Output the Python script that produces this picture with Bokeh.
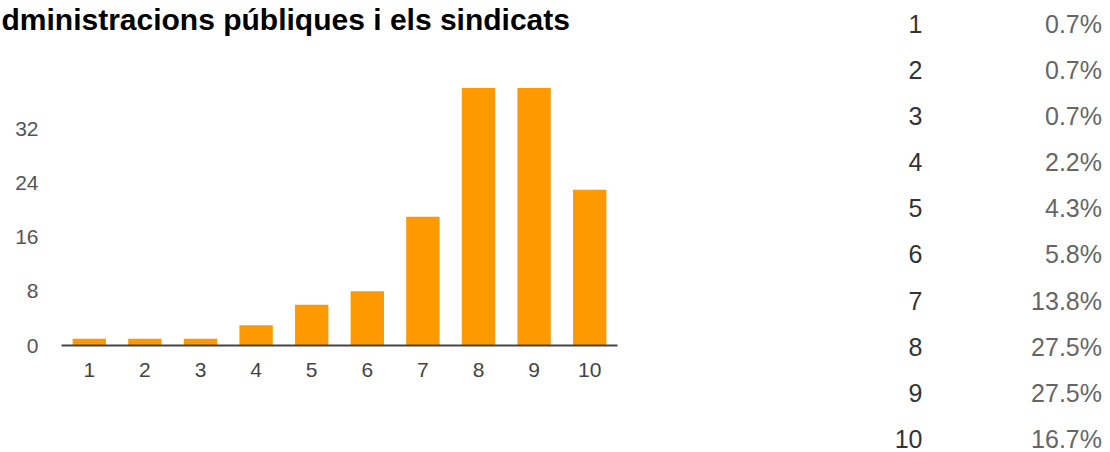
from bokeh.plotting import figure
from bokeh.models import Range1d, FixedTicker
from bokeh.layouts import row, column
from bokeh.core.properties import value
from bokeh.embed import file_html
from bokeh.resources import INLINE

# ---- data ----
title_text = "dministracions públiques i els sindicats"
scores = [1, 2, 3, 4, 5, 6, 7, 8, 9, 10]
score_labels = ["1", "2", "3", "4", "5", "6", "7", "8", "9", "10"]
counts = [1, 1, 1, 3, 6, 8, 19, 38, 38, 23]
percents = ["0.7%", "0.7%", "0.7%", "2.2%", "4.3%", "5.8%", "13.8%", "27.5%", "27.5%", "16.7%"]
y_ticks = [0, 8, 16, 24, 32]

FONT = "Liberation Sans"

# ---- title strip ----
tfig = figure(width=888, height=48, x_range=Range1d(0, 888), y_range=Range1d(48, 0),
              x_axis_location=None, y_axis_location=None, min_border=0,
              output_backend="svg", toolbar_location=None)
tfig.outline_line_color = None
tfig.grid.visible = False
tfig.frame_align = False
tfig.text(x=[1], y=[19], text=[title_text], text_align="left", text_baseline="middle",
          text_font=value(FONT), text_font_size="30px", text_font_style="bold",
          text_color="#000000")

# ---- bar chart ----
p1 = figure(width=888, height=404, x_range=Range1d(0.5, 10.5), y_range=Range1d(0, 40),
            output_backend="svg", toolbar_location=None,
            min_border_left=61, min_border_right=271, min_border_top=26, min_border_bottom=107)
p1.outline_line_color = None
p1.grid.visible = False
p1.frame_align = False
p1.vbar(x=scores, top=counts, width=0.6, fill_color="#ff9900", line_color=None)

xa = p1.xaxis[0]
xa.ticker = FixedTicker(ticks=scores)
xa.major_label_overrides = {s: l for s, l in zip(scores, score_labels)}
xa.axis_line_color = "#444444"
xa.axis_line_width = 2
xa.major_tick_line_color = None
xa.minor_tick_line_color = None
xa.major_tick_in = 0
xa.major_tick_out = 0
xa.major_label_standoff = 17
xa.major_label_text_font = FONT
xa.major_label_text_font_size = "21px"
xa.major_label_text_color = "#444444"

ya = p1.yaxis[0]
ya.ticker = FixedTicker(ticks=y_ticks)
ya.axis_line_color = None
ya.major_tick_line_color = None
ya.minor_tick_line_color = None
ya.major_tick_in = 0
ya.major_tick_out = 0
ya.major_label_standoff = 23
ya.major_label_text_font = FONT
ya.major_label_text_font_size = "21px"
ya.major_label_text_color = "#555555"

# ---- summary table ----
# rows centred at 23 + 46.2*(i-1) px from the top of the 452px tall strip
p2 = figure(width=218, height=452, x_range=Range1d(0, 218), y_range=Range1d(10.286, 0.502),
            x_axis_location=None, y_axis_location=None, min_border=0,
            output_backend="svg", toolbar_location=None)
p2.outline_line_color = None
p2.grid.visible = False
p2.frame_align = False
p2.text(x=34, y=scores, text=score_labels, text_align="right", text_baseline="middle",
        text_font=value(FONT), text_font_size="25px", text_color="#333333")
p2.text(x=213.5, y=scores, text=percents, text_align="right", text_baseline="middle",
        text_font=value(FONT), text_font_size="25px", text_color="#666666")

layout = row(column(tfig, p1), p2)
open("out.html", "w").write(file_html(layout, INLINE))
